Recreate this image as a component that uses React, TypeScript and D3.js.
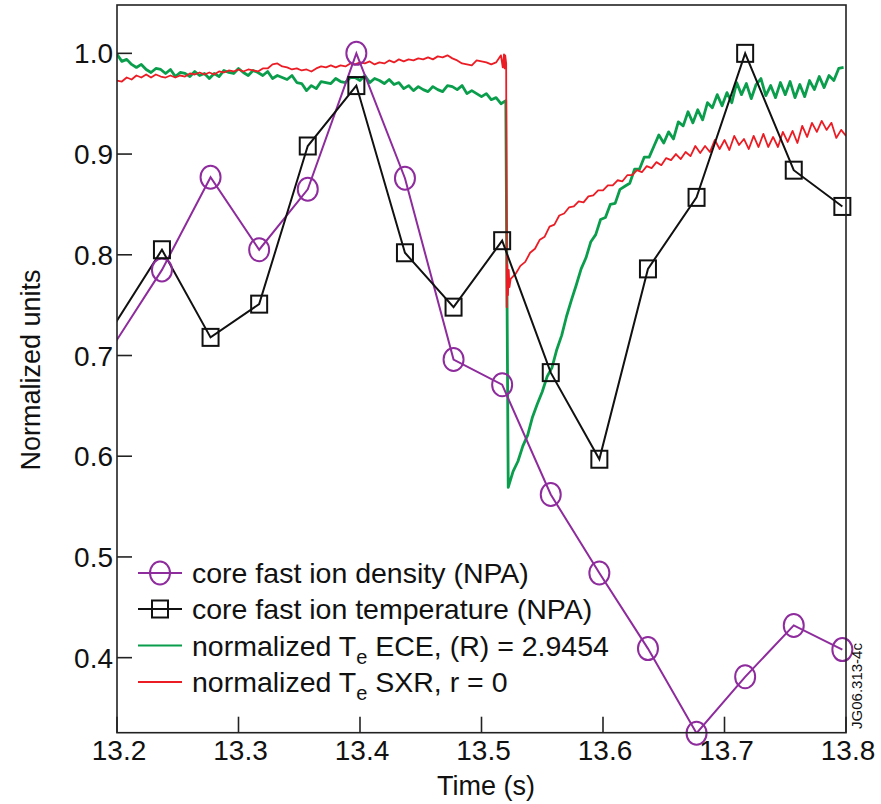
import React from 'react';
import * as d3 from 'd3';

const W = 881;
const H = 804;
const FRAME = { left: 117, right: 846, top: 5, bottom: 732.7 };
const FONT = '"Liberation Sans", Arial, Helvetica, sans-serif';

const X_DOMAIN = [13.2, 13.8];
const Y_DOMAIN = [0.3255, 1.048];
const X_TICKS = [13.2, 13.3, 13.4, 13.5, 13.6, 13.7, 13.8];
const Y_TICKS = [0.4, 0.5, 0.6, 0.7, 0.8, 0.9, 1.0];

// NPA data (first point lies just left of the axis and is clipped)
const NPA_TIME = [13.197, 13.237, 13.277, 13.317, 13.357, 13.397, 13.437, 13.477, 13.517, 13.557, 13.597, 13.637, 13.677, 13.717, 13.757, 13.797];
const DENSITY = [0.710, 0.785, 0.877, 0.805, 0.865, 1.000, 0.876, 0.696, 0.671, 0.562, 0.484, 0.409, 0.325, 0.381, 0.432, 0.408];
const TEMPERATURE = [0.729, 0.805, 0.718, 0.751, 0.908, 0.968, 0.802, 0.748, 0.814, 0.683, 0.597, 0.786, 0.857, 1.000, 0.884, 0.848];

// ECE trace, sampled every 4 ms
const ECE_PRE_START = 13.2;
const ECE_PRE = [
  0.999, 0.992, 0.994, 0.989, 0.986, 0.989, 0.984, 0.981, 0.985, 0.984,
  0.980, 0.984, 0.977, 0.981, 0.980, 0.977, 0.982, 0.978, 0.980, 0.975,
  0.980, 0.977, 0.983, 0.981, 0.980, 0.985, 0.981, 0.978, 0.983, 0.981,
  0.978, 0.982, 0.975, 0.978, 0.976, 0.974, 0.978, 0.971, 0.970, 0.963,
  0.968, 0.965, 0.972, 0.971, 0.970, 0.975, 0.972, 0.971, 0.976, 0.976,
  0.973, 0.978, 0.971, 0.975, 0.973, 0.970, 0.974, 0.969, 0.971, 0.965,
  0.968, 0.963, 0.967, 0.964, 0.962, 0.967, 0.964, 0.962, 0.968, 0.967,
  0.964, 0.968, 0.960, 0.963, 0.960, 0.957, 0.960, 0.954, 0.956, 0.950,
  0.953,
];
const ECE_POST_START = 13.522;
const ECE_POST = [
  0.569, 0.585, 0.595, 0.610, 0.621, 0.639, 0.652, 0.664, 0.679, 0.688,
  0.706, 0.720, 0.739, 0.755, 0.770, 0.786, 0.797, 0.813, 0.820, 0.835,
  0.837, 0.850, 0.851, 0.865, 0.868, 0.871, 0.885, 0.885, 0.897, 0.897,
  0.908, 0.919, 0.911, 0.922, 0.915, 0.932, 0.928, 0.942, 0.931, 0.944,
  0.934, 0.951, 0.946, 0.959, 0.948, 0.961, 0.951, 0.971, 0.959, 0.970,
  0.955, 0.969, 0.975, 0.958, 0.968, 0.956, 0.971, 0.959, 0.972, 0.956,
  0.969, 0.957, 0.973, 0.964, 0.977, 0.966, 0.978, 0.973, 0.985, 0.986,
];

// SXR trace, sampled every 4 ms, with the crash samples in between
const SXR_PRE_START = 13.2;
const SXR_PRE = [
  0.973, 0.972, 0.976, 0.974, 0.978, 0.976, 0.979, 0.976, 0.979, 0.977,
  0.976, 0.978, 0.976, 0.978, 0.977, 0.980, 0.979, 0.981, 0.979, 0.981,
  0.979, 0.982, 0.981, 0.983, 0.982, 0.984, 0.982, 0.984, 0.983, 0.982,
  0.985, 0.985, 0.989, 0.990, 0.987, 0.986, 0.984, 0.985, 0.983, 0.984,
  0.982, 0.985, 0.987, 0.986, 0.988, 0.986, 0.988, 0.987, 0.990, 0.989,
  0.991, 0.990, 0.992, 0.989, 0.991, 0.990, 0.993, 0.991, 0.994, 0.992,
  0.994, 0.993, 0.995, 0.994, 0.996, 0.994, 0.997, 0.996, 0.998, 0.995,
  0.993, 0.990, 0.989, 0.988, 0.993, 0.992, 0.991, 0.989, 0.991, 0.998,
];
const SXR_CRASH_TIME = [13.5175, 13.5185, 13.519, 13.5195, 13.5203, 13.5207, 13.5212, 13.5218, 13.5224, 13.523];
const SXR_CRASH = [0.986, 0.999, 0.985, 0.998, 0.990, 0.748, 0.790, 0.760, 0.785, 0.768];
const SXR_POST_START = 13.524;
const SXR_POST = [
  0.776, 0.781, 0.789, 0.793, 0.802, 0.806, 0.815, 0.818, 0.828, 0.830,
  0.839, 0.841, 0.847, 0.848, 0.853, 0.852, 0.858, 0.859, 0.864, 0.864,
  0.869, 0.869, 0.874, 0.873, 0.879, 0.879, 0.884, 0.882, 0.888, 0.886,
  0.892, 0.889, 0.896, 0.894, 0.900, 0.895, 0.902, 0.898, 0.908, 0.901,
  0.908, 0.902, 0.914, 0.905, 0.914, 0.904, 0.918, 0.909, 0.915, 0.905,
  0.918, 0.907, 0.920, 0.907, 0.917, 0.907, 0.922, 0.912, 0.923, 0.911,
  0.928, 0.917, 0.931, 0.922, 0.933, 0.924, 0.931, 0.916, 0.924, 0.918,
];
const STEP = 0.004;

const LEGEND = [
  { key: 'density', text: 'core fast ion density (NPA)' },
  { key: 'temperature', text: 'core fast ion temperature (NPA)' },
  { key: 'ece', pre: 'normalized T', sub: 'e', post: ' ECE, (R) = 2.9454' },
  { key: 'sxr', pre: 'normalized T', sub: 'e', post: ' SXR, r = 0' },
];

const C_PURPLE = '#8e2b9d';
const C_BLACK = '#111111';
const C_GREEN = '#0a9e4c';
const C_RED = '#ec1c24';

type P = [number, number];

function sampled(start: number, vals: number[]): P[] {
  return vals.map((v, i) => [start + i * STEP, v] as P);
}

export default function App() {
  const x = d3.scaleLinear().domain(X_DOMAIN).range([FRAME.left, FRAME.right]);
  const y = d3.scaleLinear().domain(Y_DOMAIN).range([FRAME.bottom, FRAME.top]);
  const line = d3.line<P>().x((d) => x(d[0])).y((d) => y(d[1]));

  const ece: P[] = [...sampled(ECE_PRE_START, ECE_PRE), ...sampled(ECE_POST_START, ECE_POST)];
  const sxr: P[] = [
    ...sampled(SXR_PRE_START, SXR_PRE),
    ...SXR_CRASH_TIME.map((t, i) => [t, SXR_CRASH[i]] as P),
    ...sampled(SXR_POST_START, SXR_POST),
  ];
  const dens: P[] = NPA_TIME.map((t, i) => [t, DENSITY[i]] as P);
  const temp: P[] = NPA_TIME.map((t, i) => [t, TEMPERATURE[i]] as P);
  const inside = (d: P) => d[0] >= X_DOMAIN[0];

  const legendY = [573, 609, 645.5, 682];
  const lx0 = 138;
  const lx1 = 182;
  const lcx = (lx0 + lx1) / 2;

  return (
    <svg width={W} height={H} style={{ position: 'absolute', left: 0, top: 0, background: '#fff' }} fontFamily={FONT}>
      <defs>
        <clipPath id="plotclip">
          <rect x={FRAME.left} y={FRAME.top} width={FRAME.right - FRAME.left} height={FRAME.bottom - FRAME.top} />
        </clipPath>
      </defs>
      <rect x={0} y={0} width={W} height={H} fill="#fff" />

      <g clipPath="url(#plotclip)">
        <path d={line(ece) || ''} fill="none" stroke={C_GREEN} strokeWidth={2.8} strokeLinejoin="round" />
        <path d={line(sxr) || ''} fill="none" stroke={C_RED} strokeWidth={1.8} strokeLinejoin="round" />
        <path d={line(dens) || ''} fill="none" stroke={C_PURPLE} strokeWidth={2} />
        <path d={line(temp) || ''} fill="none" stroke={C_BLACK} strokeWidth={2} />
      </g>

      {dens.filter(inside).map((d, i) => (
        <ellipse key={'c' + i} cx={x(d[0])} cy={y(d[1])} rx={10} ry={11.5} fill="none" stroke={C_PURPLE} strokeWidth={2} />
      ))}
      {temp.filter(inside).map((d, i) => (
        <rect key={'s' + i} x={x(d[0]) - 8} y={y(d[1]) - 8.5} width={16} height={17} fill="none" stroke={C_BLACK} strokeWidth={2} />
      ))}

      {/* frame */}
      <rect x={FRAME.left} y={FRAME.top} width={FRAME.right - FRAME.left} height={FRAME.bottom - FRAME.top} fill="none" stroke="#222" strokeWidth={1.6} />

      {/* y ticks */}
      {Y_TICKS.map((t) => (
        <g key={'yt' + t}>
          <line x1={FRAME.left} x2={FRAME.left + 15} y1={y(t)} y2={y(t)} stroke="#222" strokeWidth={1.6} />
          <text x={113} y={y(t)} dy="0.36em" textAnchor="end" fontSize={28} fill="#111">
            {d3.format('.1f')(t)}
          </text>
        </g>
      ))}
      {/* x ticks */}
      {X_TICKS.map((t) => (
        <g key={'xt' + t}>
          <line x1={x(t)} x2={x(t)} y1={FRAME.bottom} y2={FRAME.bottom - 16} stroke="#222" strokeWidth={1.6} />
          <text x={x(t) + 2} y={760} textAnchor="middle" fontSize={28} fill="#111">
            {d3.format('.1f')(t)}
          </text>
        </g>
      ))}

      <text x={486} y={795} textAnchor="middle" fontSize={27} fill="#111">Time (s)</text>
      <text transform="translate(40,370) rotate(-90)" textAnchor="middle" fontSize={27} fill="#111">Normalized units</text>
      <text transform="translate(862,686) rotate(-90)" textAnchor="middle" fontSize={15} fill="#111">JG06.313-4c</text>

      {/* legend */}
      {LEGEND.map((item, i) => {
        const ly = legendY[i];
        const color = item.key === 'density' ? C_PURPLE : item.key === 'temperature' ? C_BLACK : item.key === 'ece' ? C_GREEN : C_RED;
        return (
          <g key={item.key}>
            <line x1={lx0} x2={lx1} y1={ly} y2={ly} stroke={color} strokeWidth={2} />
            {item.key === 'density' && (
              <ellipse cx={lcx} cy={ly} rx={10} ry={11.5} fill="none" stroke={C_PURPLE} strokeWidth={2} />
            )}
            {item.key === 'temperature' && (
              <rect x={lcx - 8} y={ly - 8.5} width={16} height={17} fill="none" stroke={C_BLACK} strokeWidth={2} />
            )}
            <text x={192} y={ly} dy="0.36em" fontSize={28.5} fill="#111">
              {item.text ? item.text : (
                <>
                  {item.pre}
                  <tspan fontSize={20} dy={8}>{item.sub}</tspan>
                  <tspan dy={-8}>{item.post}</tspan>
                </>
              )}
            </text>
          </g>
        );
      })}
    </svg>
  );
}
